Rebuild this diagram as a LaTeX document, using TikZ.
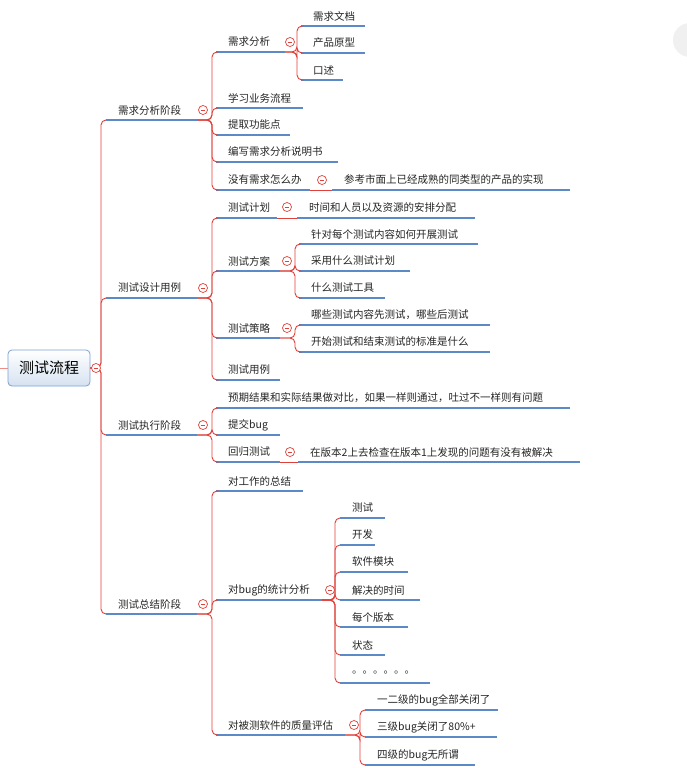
\documentclass[tikz,border=0pt]{standalone}
\usepackage{fontspec}
\newfontfamily\cjk{Noto Sans CJK SC}
\definecolor{ulc}{HTML}{5B8AC6}
\definecolor{cnc}{HTML}{E0403A}
\tikzset{
  uline/.style={draw=ulc,line width=2.4pt},
  conn/.style={draw=cnc,line width=0.9pt,rounded corners=5pt},
  txt/.style={font=\cjk\fontsize{10.5}{12}\selectfont,inner sep=0pt,text=black!85},
  mkcirc/.style={circle,draw=cnc,fill=white,line width=0.7pt,minimum size=9pt,inner sep=0pt},
}
\newcommand\tp[5]{%
  \coordinate (#1-s) at (#2,#4+10);
  \coordinate (#1-e) at (#3,#4+10);
  \draw[uline] (#1-s) -- (#1-e);
  \node[txt,anchor=west] (#1) at (#2+12,#4) {#5};}
\newcommand\cn[3]{\draw[conn] (#1-e) -- (#1-e -| #2,0) |- (#3-s);}
\newcommand\mk[3]{\node[mkcirc] (#1-m) at (#2,#3) {}; \draw[cnc,line width=0.7pt] (#2-2.2,#3) -- (#2+2.2,#3);}
\begin{document}
\begin{tikzpicture}[x=1pt,y=-1pt]
\useasboundingbox[fill=white] (0,0) rectangle (686,768);
\fill[black!6] (690,40) circle (17pt);
\draw[cnc!60,line width=0.8pt] (0,368) -- (8,368);
% root
\node[draw=ulc!80,rounded corners=4pt,top color=white,bottom color=ulc!25,line width=0.8pt,
  minimum width=82pt,minimum height=36pt,font=\cjk\fontsize{15}{18}\selectfont] (root) at (49,368) {测试流程};
\coordinate (root-e) at (90,368);
% level 1
\tp{A}{106}{197}{110}{需求分析阶段}
\tp{B}{106}{197}{288}{测试设计用例}
\tp{C}{106}{197}{425}{测试执行阶段}
\tp{D}{106}{197}{604}{测试总结阶段}
\foreach \c in {A,B,C,D} {\cn{root}{101}{\c}}
% A
\tp{A1}{216}{285}{42}{需求分析}
\tp{A2}{216}{303}{98}{学习业务流程}
\tp{A3}{216}{290}{125}{提取功能点}
\tp{A4}{216}{338}{152}{编写需求分析说明书}
\tp{A5}{216}{310}{180}{没有需求怎么办}
\foreach \c in {A1,A2,A3,A4,A5} {\cn{A}{212}{\c}}
\tp{A11}{301}{365}{16}{需求文档}
\tp{A12}{301}{365}{43}{产品原型}
\tp{A13}{301}{343}{70}{口述}
\foreach \c in {A11,A12,A13} {\cn{A1}{297}{\c}}
\tp{A51}{332}{570}{180}{参考市面上已经成熟的同类型的产品的实现}
\draw[conn] (A5-e) -- (A51-s);
% B
\tp{B1}{216}{277}{208}{测试计划}
\tp{B2}{216}{280}{261}{测试方案}
\tp{B3}{216}{280}{328}{测试策略}
\tp{B4}{216}{280}{370}{测试用例}
\foreach \c in {B1,B2,B3,B4} {\cn{B}{212}{\c}}
\tp{B11}{297}{475}{208}{时间和人员以及资源的安排分配}
\draw[conn] (B1-e) -- (B11-s);
\tp{B21}{299}{478}{234}{针对每个测试内容如何开展测试}
\tp{B22}{299}{410}{261}{采用什么测试计划}
\tp{B23}{299}{385}{288}{什么测试工具}
\foreach \c in {B21,B22,B23} {\cn{B2}{295}{\c}}
\tp{B31}{299}{490}{315}{哪些测试内容先测试，哪些后测试}
\tp{B32}{299}{490}{342}{开始测试和结束测试的标准是什么}
\foreach \c in {B31,B32} {\cn{B3}{295}{\c}}
% C
\tp{C1}{216}{570}{398}{预期结果和实际结果做对比，如果一样则通过，吐过不一样则有问题}
\tp{C2}{216}{280}{425}{提交bug}
\tp{C3}{216}{280}{452}{回归测试}
\foreach \c in {C1,C2,C3} {\cn{C}{212}{\c}}
\tp{C31}{298}{580}{452}{在版本2上去检查在版本1上发现的问题有没有被解决}
\draw[conn] (C3-e) -- (C31-s);
% D
\tp{D1}{216}{303}{481}{对工作的总结}
\tp{D2}{216}{322}{590}{对bug的统计分析}
\tp{D3}{216}{345}{725}{对被测软件的质量评估}
\foreach \c in {D1,D2,D3} {\cn{D}{212}{\c}}
\tp{D21}{340}{385}{508}{测试}
\tp{D22}{340}{375}{535}{开发}
\tp{D23}{340}{408}{562}{软件模块}
\tp{D24}{340}{420}{590}{解决的时间}
\tp{D25}{340}{408}{617}{每个版本}
\tp{D26}{340}{385}{645}{状态}
\tp{D27}{340}{430}{673}{。。。。。。}
\foreach \c in {D21,D22,D23,D24,D25,D26,D27} {\cn{D2}{335}{\c}}
\tp{D31}{365}{498}{700}{一二级的bug全部关闭了}
\tp{D32}{365}{497}{727}{三级bug关闭了80\%+}
\tp{D33}{365}{475}{755}{四级的bug无所谓}
\foreach \c in {D31,D32,D33} {\cn{D3}{360}{\c}}
% markers
\mk{root}{96}{368}
\mk{A}{203}{110}\mk{B}{203}{288}\mk{C}{203}{425}\mk{D}{203}{604}
\mk{A1}{290}{42}\mk{A5}{322}{180}
\mk{B1}{287}{207}\mk{B2}{287}{261}\mk{B3}{287}{328}
\mk{C3}{290}{452}
\mk{D2}{330}{590}\mk{D3}{354}{725}
\end{tikzpicture}
\end{document}
